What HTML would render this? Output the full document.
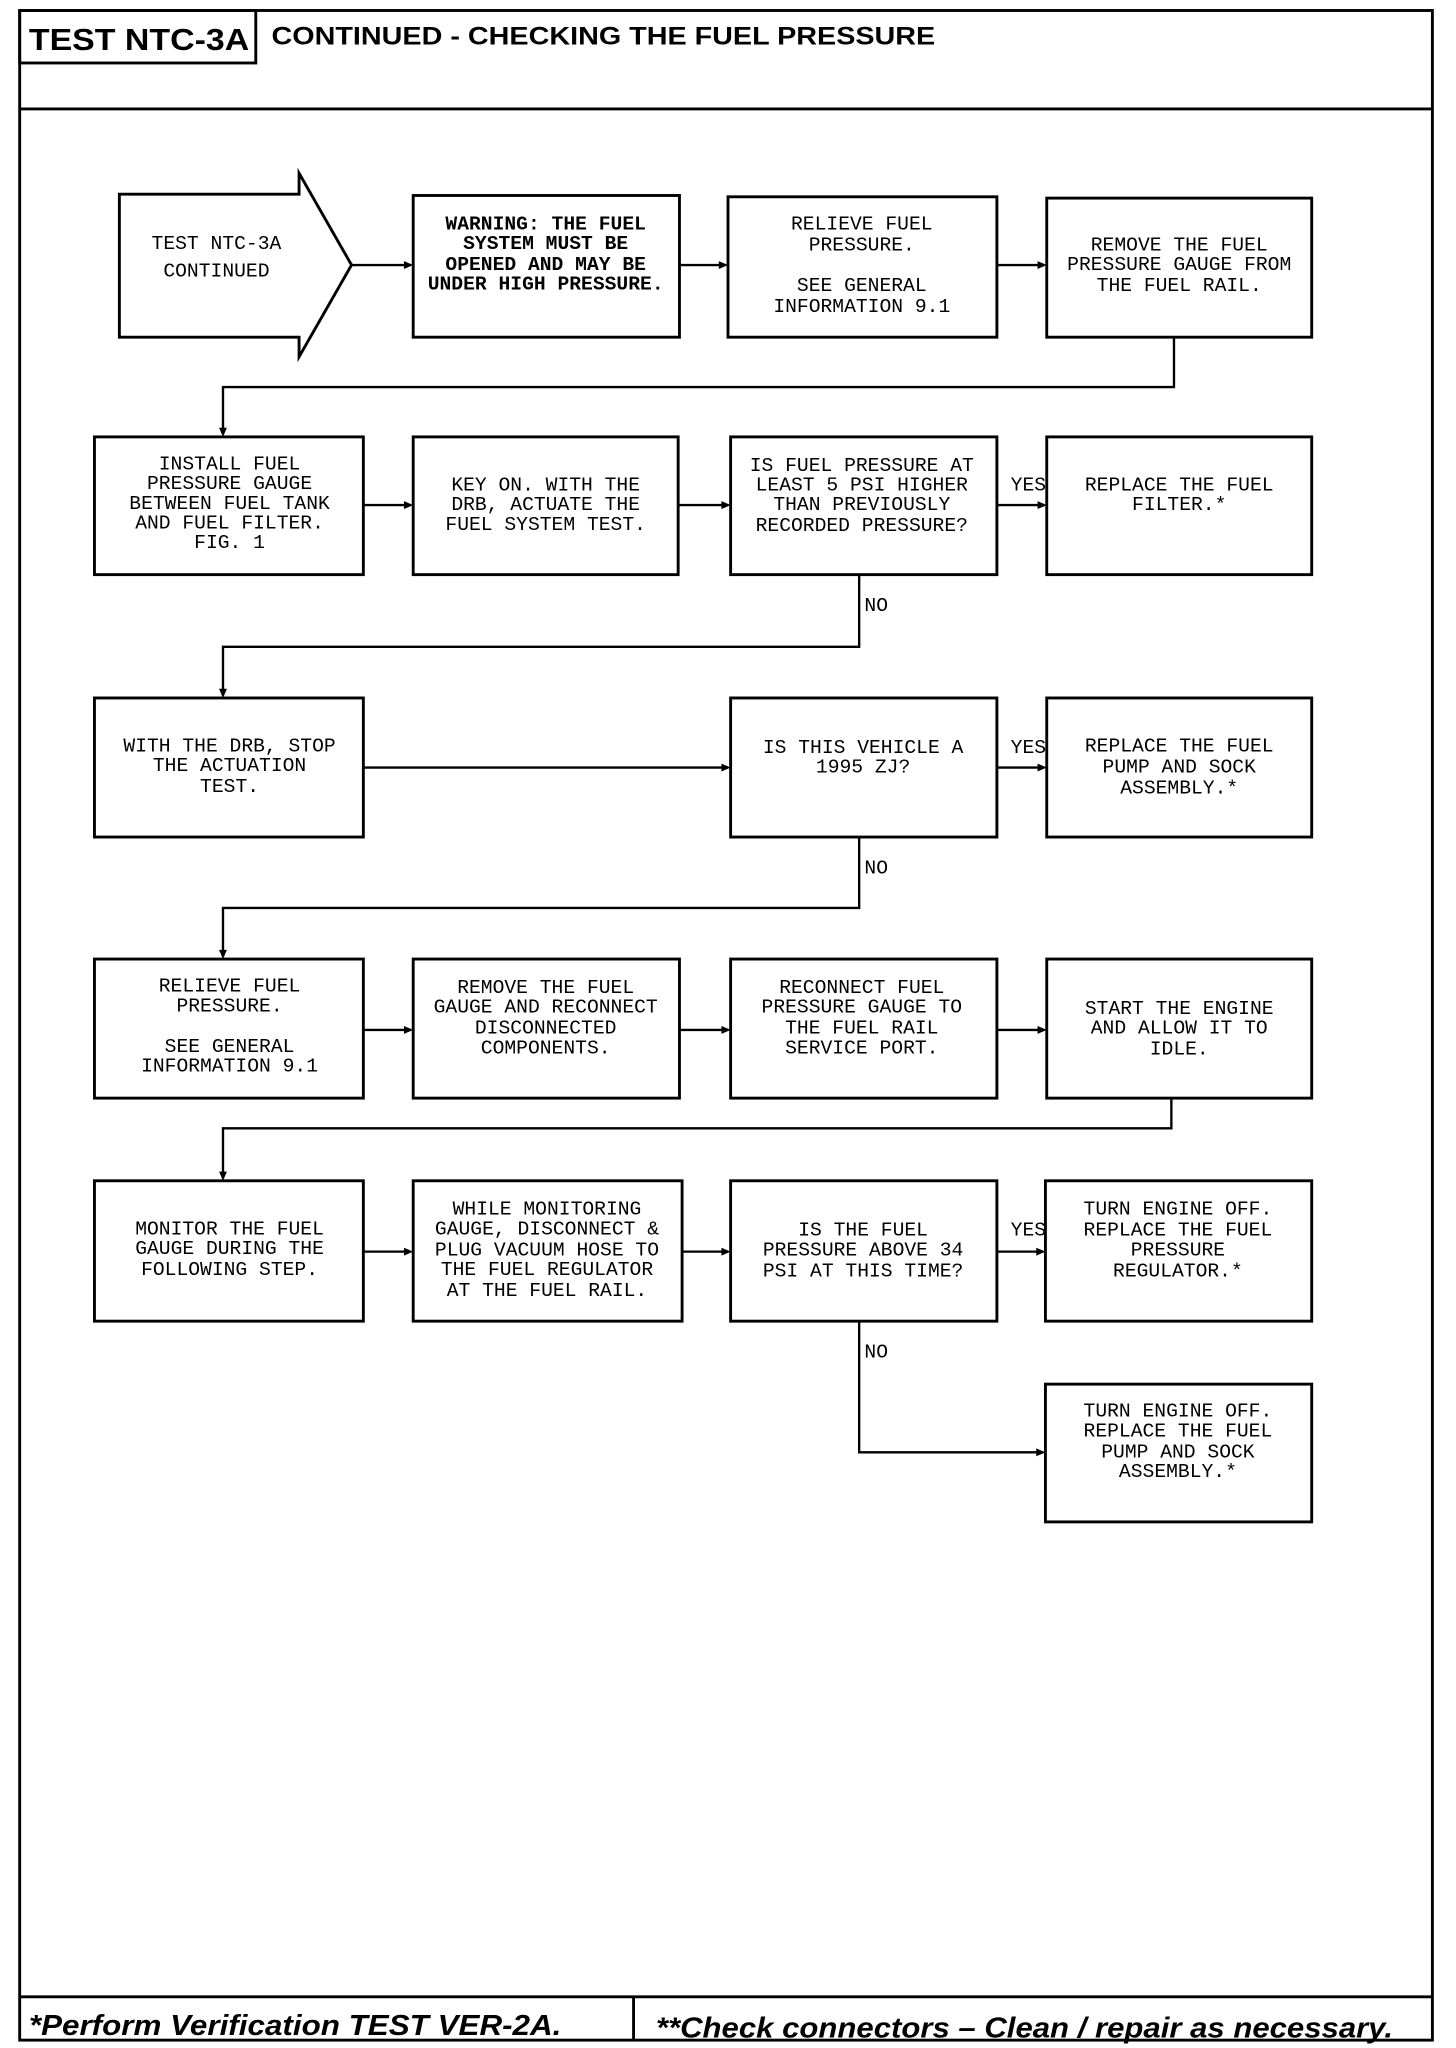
<!DOCTYPE html>
<html><head><meta charset="utf-8"><style>
html,body{margin:0;padding:0;background:#fff;}
svg{display:block;}
.t{font-family:"Liberation Mono",monospace;font-size:15px;text-anchor:middle;dominant-baseline:central;fill:#000;}
.b{font-weight:bold;}
</style></head><body>
<svg width="1456" height="2048" viewBox="0 0 1110 1561" preserveAspectRatio="none" xmlns="http://www.w3.org/2000/svg">
<g fill="none" stroke="#000" stroke-width="2.2">
<rect x="15" y="8" width="1077" height="1547"/>
<line x1="15" y1="83" x2="1092" y2="83"/>
<rect x="15" y="8" width="180" height="40"/>
<line x1="15" y1="1522" x2="1092" y2="1522"/>
<line x1="483" y1="1522" x2="483" y2="1555"/>
<polygon points="91,148 228,148 228,132 268,202 228,272 228,257 91,257"/>
<rect x="315" y="149" width="203" height="108"/>
<rect x="555" y="150" width="205" height="107"/>
<rect x="798" y="151" width="202" height="106"/>
<rect x="72" y="333" width="205" height="105"/>
<rect x="315" y="333" width="202" height="105"/>
<rect x="557" y="333" width="203" height="105"/>
<rect x="798" y="333" width="202" height="105"/>
<rect x="72" y="532" width="205" height="106"/>
<rect x="557" y="532" width="203" height="106"/>
<rect x="798" y="532" width="202" height="106"/>
<rect x="72" y="731" width="205" height="106"/>
<rect x="315" y="731" width="203" height="106"/>
<rect x="557" y="731" width="203" height="106"/>
<rect x="798" y="731" width="202" height="106"/>
<rect x="72" y="900" width="205" height="107"/>
<rect x="315" y="900" width="205" height="107"/>
<rect x="557" y="900" width="203" height="107"/>
<rect x="797" y="900" width="203" height="107"/>
<rect x="797" y="1055" width="203" height="105"/>
<g stroke-width="1.8">
<line x1="268" y1="202" x2="313" y2="202"/>
<line x1="518" y1="202" x2="553" y2="202"/>
<line x1="760" y1="202" x2="796" y2="202"/>
<polyline points="895,257 895,295 170,295 170,331"/>
<line x1="277" y1="385" x2="313" y2="385"/>
<line x1="517" y1="385" x2="555" y2="385"/>
<line x1="760" y1="385" x2="796" y2="385"/>
<polyline points="655,438 655,493 170,493 170,530"/>
<line x1="277" y1="585" x2="555" y2="585"/>
<line x1="760" y1="585" x2="796" y2="585"/>
<polyline points="655,638 655,692 170,692 170,729"/>
<line x1="277" y1="785" x2="313" y2="785"/>
<line x1="518" y1="785" x2="555" y2="785"/>
<line x1="760" y1="785" x2="796" y2="785"/>
<polyline points="893,837 893,860 170,860 170,898"/>
<line x1="277" y1="954" x2="313" y2="954"/>
<line x1="520" y1="954" x2="555" y2="954"/>
<line x1="760" y1="954" x2="795" y2="954"/>
<polyline points="655,1007 655,1107 795,1107"/>
</g>
</g>
<g fill="#000">
<polygon points="315,202 308,199 308,205"/>
<polygon points="555,202 548,199 548,205"/>
<polygon points="798,202 791,199 791,205"/>
<polygon points="170,333 167,326 173,326"/>
<polygon points="315,385 308,382 308,388"/>
<polygon points="557,385 550,382 550,388"/>
<polygon points="798,385 791,382 791,388"/>
<polygon points="170,532 167,525 173,525"/>
<polygon points="557,585 550,582 550,588"/>
<polygon points="798,585 791,582 791,588"/>
<polygon points="170,731 167,724 173,724"/>
<polygon points="315,785 308,782 308,788"/>
<polygon points="557,785 550,782 550,788"/>
<polygon points="798,785 791,782 791,788"/>
<polygon points="170,900 167,893 173,893"/>
<polygon points="315,954 308,951 308,957"/>
<polygon points="557,954 550,951 550,957"/>
<polygon points="797,954 790,951 790,957"/>
<polygon points="797,1107 790,1104 790,1110"/>
</g>
<text x="22" y="38" font-family="Liberation Sans,sans-serif" font-weight="bold" font-size="23" textLength="168" lengthAdjust="spacingAndGlyphs">TEST NTC-3A</text>
<text x="207" y="34" font-family="Liberation Sans,sans-serif" font-weight="bold" font-size="19" textLength="506" lengthAdjust="spacingAndGlyphs">CONTINUED -  CHECKING THE FUEL PRESSURE</text>
<text x="22" y="1551" font-family="Liberation Sans,sans-serif" font-weight="bold" font-style="italic" font-size="22" textLength="406" lengthAdjust="spacingAndGlyphs">*Perform Verification TEST VER-2A.</text>
<text x="500" y="1553" font-family="Liberation Sans,sans-serif" font-weight="bold" font-style="italic" font-size="22" textLength="562" lengthAdjust="spacingAndGlyphs">**Check connectors – Clean / repair as necessary.</text>
<g class="t">
<text x="165" y="186">TEST NTC-3A</text><text x="165" y="207">CONTINUED</text>
<g class="b"><text x="416" y="171">WARNING: THE FUEL</text><text x="416" y="186">SYSTEM MUST BE</text><text x="416" y="202">OPENED AND MAY BE</text><text x="416" y="217">UNDER HIGH PRESSURE.</text></g>
<text x="657" y="171">RELIEVE FUEL</text><text x="657" y="187">PRESSURE.</text><text x="657" y="218">SEE GENERAL</text><text x="657" y="234">INFORMATION 9.1</text>
<text x="899" y="187">REMOVE THE FUEL</text><text x="899" y="202">PRESSURE GAUGE FROM</text><text x="899" y="218">THE FUEL RAIL.</text>
<text x="175" y="354">INSTALL FUEL</text><text x="175" y="369">PRESSURE GAUGE</text><text x="175" y="384">BETWEEN FUEL TANK</text><text x="175" y="399">AND FUEL FILTER.</text><text x="175" y="414">FIG. 1</text>
<text x="416" y="370">KEY ON. WITH THE</text><text x="416" y="385">DRB, ACTUATE THE</text><text x="416" y="400">FUEL SYSTEM TEST.</text>
<text x="657" y="355">IS FUEL PRESSURE AT</text><text x="657" y="370">LEAST 5 PSI HIGHER</text><text x="657" y="385">THAN PREVIOUSLY</text><text x="657" y="401">RECORDED PRESSURE?</text>
<text x="899" y="370">REPLACE THE FUEL</text><text x="899" y="385">FILTER.*</text>
<text x="175" y="569">WITH THE DRB, STOP</text><text x="175" y="584">THE ACTUATION</text><text x="175" y="600">TEST.</text>
<text x="658" y="570">IS THIS VEHICLE A</text><text x="658" y="585">1995 ZJ?</text>
<text x="899" y="569">REPLACE THE FUEL</text><text x="899" y="585">PUMP AND SOCK</text><text x="899" y="601">ASSEMBLY.*</text>
<text x="175" y="752">RELIEVE FUEL</text><text x="175" y="767">PRESSURE.</text><text x="175" y="798">SEE GENERAL</text><text x="175" y="813">INFORMATION 9.1</text>
<text x="416" y="753">REMOVE THE FUEL</text><text x="416" y="768">GAUGE AND RECONNECT</text><text x="416" y="784">DISCONNECTED</text><text x="416" y="799">COMPONENTS.</text>
<text x="657" y="753">RECONNECT FUEL</text><text x="657" y="768">PRESSURE GAUGE TO</text><text x="657" y="784">THE FUEL RAIL</text><text x="657" y="799">SERVICE PORT.</text>
<text x="899" y="769">START THE ENGINE</text><text x="899" y="784">AND ALLOW IT TO</text><text x="899" y="800">IDLE.</text>
<text x="175" y="937">MONITOR THE FUEL</text><text x="175" y="952">GAUGE DURING THE</text><text x="175" y="968">FOLLOWING STEP.</text>
<text x="417" y="922">WHILE MONITORING</text><text x="417" y="937">GAUGE, DISCONNECT &amp;</text><text x="417" y="953">PLUG VACUUM HOSE TO</text><text x="417" y="968">THE FUEL REGULATOR</text><text x="417" y="984">AT THE FUEL RAIL.</text>
<text x="658" y="938">IS THE FUEL</text><text x="658" y="953">PRESSURE ABOVE 34</text><text x="658" y="969">PSI AT THIS TIME?</text>
<text x="898" y="922">TURN ENGINE OFF.</text><text x="898" y="938">REPLACE THE FUEL</text><text x="898" y="953">PRESSURE</text><text x="898" y="969">REGULATOR.*</text>
<text x="898" y="1076">TURN ENGINE OFF.</text><text x="898" y="1091">REPLACE THE FUEL</text><text x="898" y="1107">PUMP AND SOCK</text><text x="898" y="1122">ASSEMBLY.*</text>
<text x="784" y="370">YES</text><text x="784" y="570">YES</text><text x="784" y="938">YES</text>
<text x="668" y="462">NO</text><text x="668" y="662">NO</text><text x="668" y="1031">NO</text>
</g>
</svg>
</body></html>
